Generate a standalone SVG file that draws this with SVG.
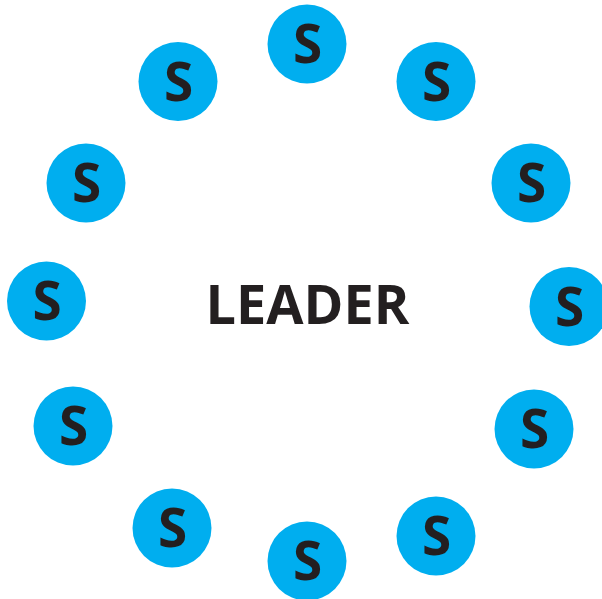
<svg xmlns="http://www.w3.org/2000/svg" width="602" height="599" viewBox="0 0 602 599">
<style>
.c{fill:#00aeef}
.s{font-family:"Open Sans","Liberation Sans",sans-serif;font-weight:700;font-size:53px;fill:#231f20;text-anchor:middle}
.l{font-family:"Open Sans","Liberation Sans",sans-serif;font-weight:700;font-size:54px;fill:#231f20;text-anchor:middle}
</style>
<rect width="602" height="599" fill="#fff"/>
<g id="n1"><circle class="c" cx="307" cy="44" r="39.5"/><text class="s" x="307.5" y="63">S</text></g>
<g id="n2"><circle class="c" cx="178" cy="81.5" r="39.5"/><text class="s" x="178.5" y="100.5">S</text></g>
<g id="n3"><circle class="c" cx="436" cy="81.5" r="39.5"/><text class="s" x="436.5" y="100.5">S</text></g>
<g id="n4"><circle class="c" cx="86" cy="183" r="39.5"/><text class="s" x="86.5" y="202">S</text></g>
<g id="n5"><circle class="c" cx="531" cy="183" r="39.5"/><text class="s" x="531.5" y="202">S</text></g>
<g id="n6"><circle class="c" cx="46.5" cy="301" r="39.5"/><text class="s" x="47" y="320">S</text></g>
<g id="n7"><circle class="c" cx="569" cy="306.5" r="39.5"/><text class="s" x="569.5" y="325.5">S</text></g>
<g id="n8"><circle class="c" cx="73" cy="426" r="39.5"/><text class="s" x="73.5" y="445">S</text></g>
<g id="n9"><circle class="c" cx="534" cy="429" r="39.5"/><text class="s" x="534.5" y="448">S</text></g>
<g id="n10"><circle class="c" cx="172" cy="528" r="39.5"/><text class="s" x="172.5" y="547">S</text></g>
<g id="n11"><circle class="c" cx="436" cy="536" r="39.5"/><text class="s" x="436.5" y="555">S</text></g>
<g id="n12"><circle class="c" cx="307" cy="561" r="39.5"/><text class="s" x="307.5" y="580">S</text></g>
<g id="leader"><text class="l" x="307.5" y="323.5">LEADER</text></g>
<g id="connectors"></g>
</svg>
